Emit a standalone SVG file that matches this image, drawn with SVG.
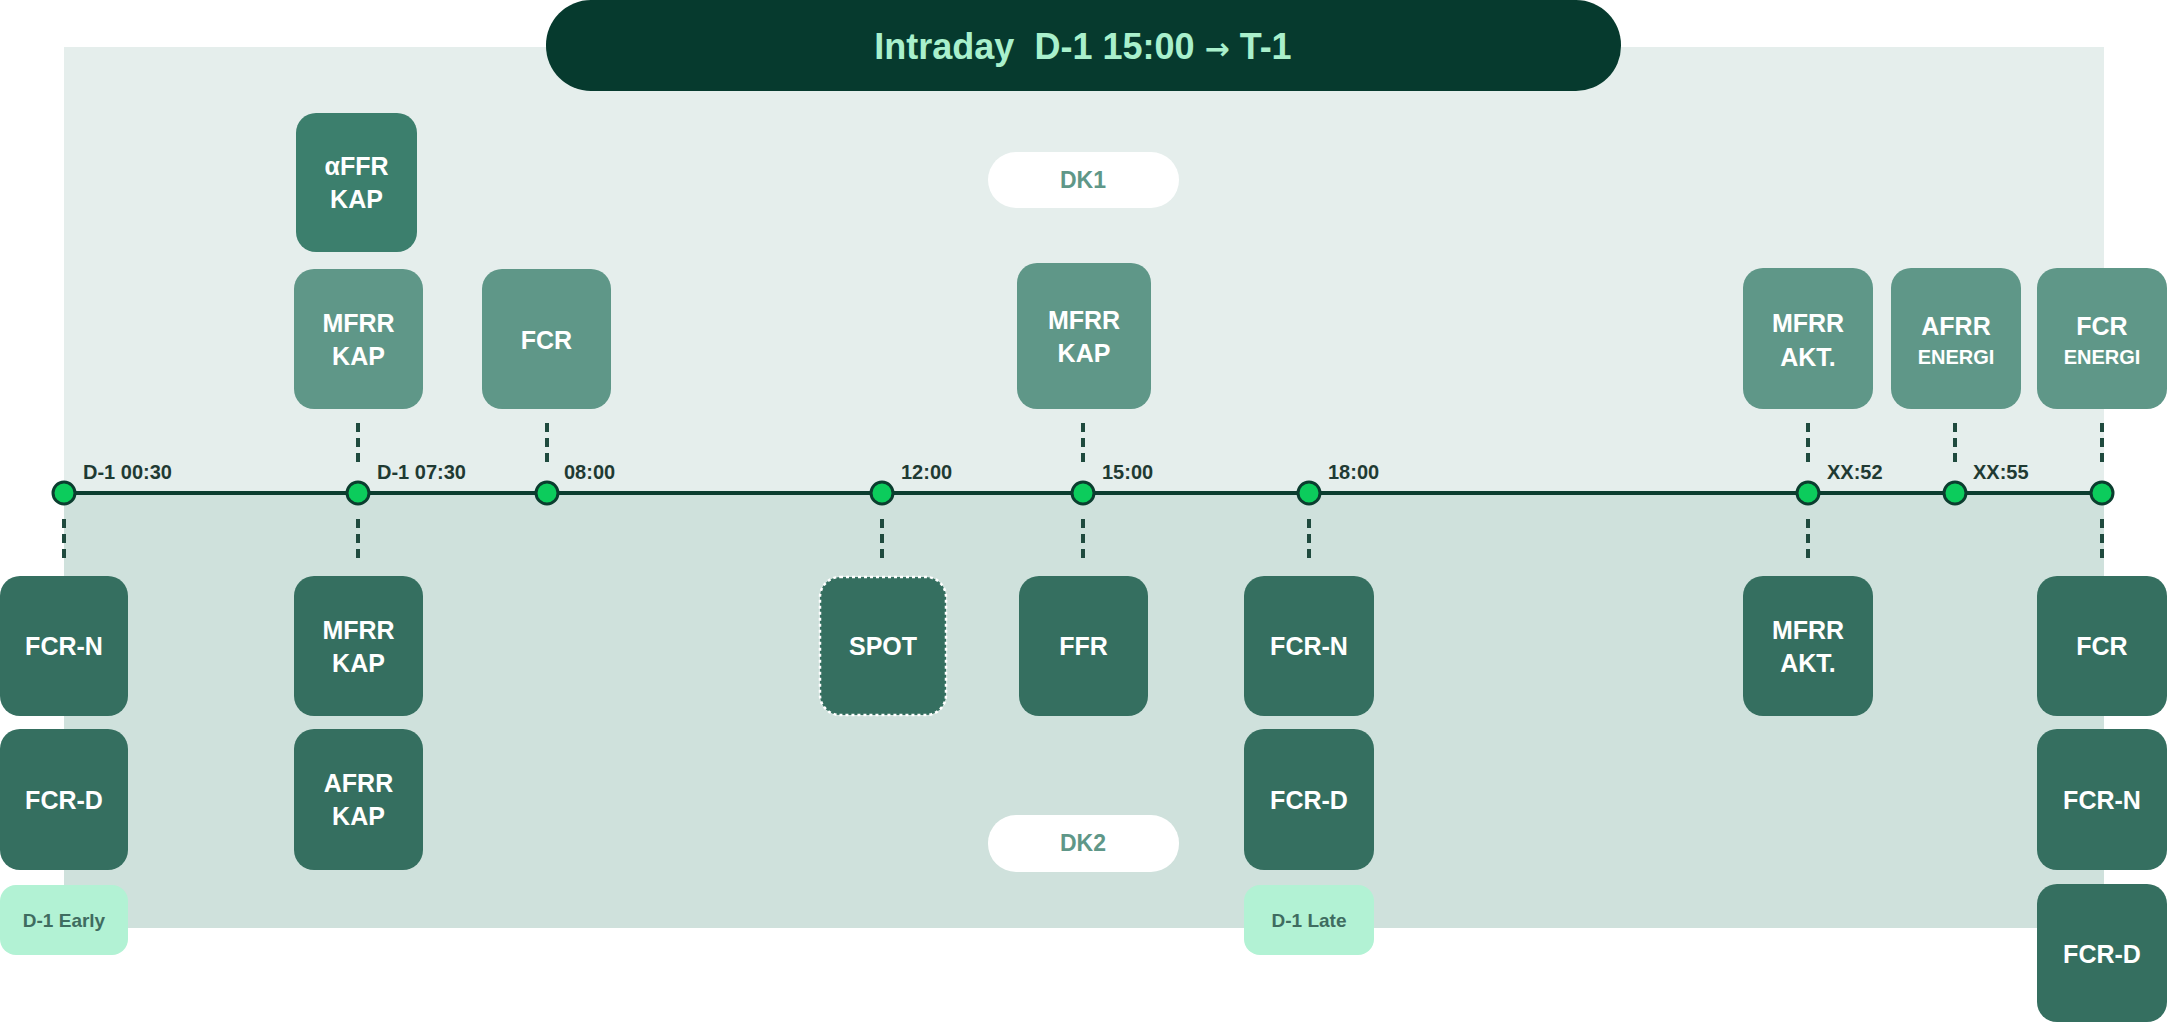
<svg xmlns="http://www.w3.org/2000/svg" width="2167" height="1022" viewBox="0 0 2167 1022">
<defs>
<style>
text{font-family:"Liberation Sans",Arial,sans-serif;font-weight:bold;}
.up{fill:#5f9788;}
.lo{fill:#356f60;}
.af{fill:#3c7f6d;}
.mint{fill:#b2f2d4;}
.nt{fill:#ffffff;font-size:25px;text-anchor:middle;}
.st{fill:#ffffff;font-size:20px;text-anchor:middle;}
.mt{fill:#3f6c60;font-size:19px;text-anchor:middle;}
.tl{fill:#1f3a33;font-size:20px;}
.dash{stroke:#1f4a3e;stroke-width:4;stroke-dasharray:9 6;fill:none;}
.dot{fill:#0ccc5c;stroke:#0b3d2f;stroke-width:3;}
.pill{fill:#ffffff;}
.pt{fill:#5f9788;font-size:23px;text-anchor:middle;}
</style>
</defs>
<rect width="2167" height="1022" fill="#ffffff"/>
<g id="panel">
<rect x="64" y="47" width="2040" height="446" fill="#e5eeec"/>
<rect x="64" y="493" width="2040" height="435" fill="#cfe1dc"/>
</g>
<g id="title">
<rect x="546" y="0" width="1075" height="91" rx="45" fill="#063a2e"/>
<text x="1083" y="59" font-size="36" text-anchor="middle" fill="#a9f0cc">Intraday&#160; D-1 15:00 <tspan font-family="DejaVu Sans, sans-serif" font-size="30">→</tspan> T-1</text>
</g>
<g id="dk1"><rect class="pill" x="988" y="152" width="191" height="56" rx="28"/><text class="pt" x="1083" y="188">DK1</text></g>
<g id="dk2"><rect class="pill" x="988" y="815" width="191" height="57" rx="28"/><text class="pt" x="1083" y="851">DK2</text></g>
<g id="connectors">
<line x1="64" y1="493" x2="2102" y2="493" stroke="#0b3d2f" stroke-width="4"/>
<line class="dash" x1="358" y1="423" x2="358" y2="468"/>
<line class="dash" x1="547" y1="423" x2="547" y2="468"/>
<line class="dash" x1="1083" y1="423" x2="1083" y2="468"/>
<line class="dash" x1="1808" y1="423" x2="1808" y2="468"/>
<line class="dash" x1="1955" y1="423" x2="1955" y2="468"/>
<line class="dash" x1="2102" y1="423" x2="2102" y2="468"/>
<line class="dash" x1="64" y1="519" x2="64" y2="564"/>
<line class="dash" x1="358" y1="519" x2="358" y2="564"/>
<line class="dash" x1="882" y1="519" x2="882" y2="564"/>
<line class="dash" x1="1083" y1="519" x2="1083" y2="564"/>
<line class="dash" x1="1309" y1="519" x2="1309" y2="564"/>
<line class="dash" x1="1808" y1="519" x2="1808" y2="564"/>
<line class="dash" x1="2102" y1="519" x2="2102" y2="564"/>
</g>
<g id="timeline">
<circle class="dot" cx="64" cy="493" r="11"/>
<circle class="dot" cx="358" cy="493" r="11"/>
<circle class="dot" cx="547" cy="493" r="11"/>
<circle class="dot" cx="882" cy="493" r="11"/>
<circle class="dot" cx="1083" cy="493" r="11"/>
<circle class="dot" cx="1309" cy="493" r="11"/>
<circle class="dot" cx="1808" cy="493" r="11"/>
<circle class="dot" cx="1955" cy="493" r="11"/>
<circle class="dot" cx="2102" cy="493" r="11"/>
<text class="tl" x="83" y="479">D-1 00:30</text>
<text class="tl" x="377" y="479">D-1 07:30</text>
<text class="tl" x="564" y="479">08:00</text>
<text class="tl" x="901" y="479">12:00</text>
<text class="tl" x="1102" y="479">15:00</text>
<text class="tl" x="1328" y="479">18:00</text>
<text class="tl" x="1827" y="479">XX:52</text>
<text class="tl" x="1973" y="479">XX:55</text>
</g>
<g id="n-affr-kap"><rect class="af" x="296" y="113" width="121" height="139" rx="20"/><text class="nt" x="356.5" y="175">αFFR</text><text class="nt" x="356.5" y="208">KAP</text></g>
<g id="n-mfrr-kap-up"><rect class="up" x="294" y="269" width="129" height="140" rx="20"/><text class="nt" x="358.5" y="332">MFRR</text><text class="nt" x="358.5" y="365">KAP</text></g>
<g id="n-fcr-up"><rect class="up" x="482" y="269" width="129" height="140" rx="20"/><text class="nt" x="546.5" y="349">FCR</text></g>
<g id="n-mfrr-kap-15"><rect class="up" x="1017" y="263" width="134" height="146" rx="20"/><text class="nt" x="1084" y="329">MFRR</text><text class="nt" x="1084" y="362">KAP</text></g>
<g id="n-mfrr-akt-up"><rect class="up" x="1743" y="268" width="130" height="141" rx="20"/><text class="nt" x="1808" y="332">MFRR</text><text class="nt" x="1808" y="366">AKT.</text></g>
<g id="n-afrr-energi"><rect class="up" x="1891" y="268" width="130" height="141" rx="20"/><text class="nt" x="1956" y="335">AFRR</text><text class="st" x="1956" y="364">ENERGI</text></g>
<g id="n-fcr-energi"><rect class="up" x="2037" y="268" width="130" height="141" rx="20"/><text class="nt" x="2102" y="335">FCR</text><text class="st" x="2102" y="364">ENERGI</text></g>
<g id="n-fcrn-early"><rect class="lo" x="0" y="576" width="128" height="140" rx="20"/><text class="nt" x="64" y="655">FCR-N</text></g>
<g id="n-fcrd-early"><rect class="lo" x="0" y="729" width="128" height="141" rx="20"/><text class="nt" x="64" y="809">FCR-D</text></g>
<g id="n-d1-early"><rect class="mint" x="0" y="885" width="128" height="70" rx="16"/><text class="mt" x="64" y="927">D-1 Early</text></g>
<g id="n-mfrr-kap-lo"><rect class="lo" x="294" y="576" width="129" height="140" rx="20"/><text class="nt" x="358.5" y="639">MFRR</text><text class="nt" x="358.5" y="672">KAP</text></g>
<g id="n-afrr-kap"><rect class="lo" x="294" y="729" width="129" height="141" rx="20"/><text class="nt" x="358.5" y="792">AFRR</text><text class="nt" x="358.5" y="825">KAP</text></g>
<g id="n-spot"><rect class="lo" x="820" y="577" width="126" height="138" rx="20" stroke="#ffffff" stroke-width="2.5" stroke-dasharray="3 3"/><text class="nt" x="883" y="655">SPOT</text></g>
<g id="n-ffr"><rect class="lo" x="1019" y="576" width="129" height="140" rx="20"/><text class="nt" x="1083.5" y="655">FFR</text></g>
<g id="n-fcrn-late"><rect class="lo" x="1244" y="576" width="130" height="140" rx="20"/><text class="nt" x="1309" y="655">FCR-N</text></g>
<g id="n-fcrd-late"><rect class="lo" x="1244" y="729" width="130" height="141" rx="20"/><text class="nt" x="1309" y="809">FCR-D</text></g>
<g id="n-d1-late"><rect class="mint" x="1244" y="885" width="130" height="70" rx="16"/><text class="mt" x="1309" y="927">D-1 Late</text></g>
<g id="n-mfrr-akt-lo"><rect class="lo" x="1743" y="576" width="130" height="140" rx="20"/><text class="nt" x="1808" y="639">MFRR</text><text class="nt" x="1808" y="672">AKT.</text></g>
<g id="n-fcr-right"><rect class="lo" x="2037" y="576" width="130" height="140" rx="20"/><text class="nt" x="2102" y="655">FCR</text></g>
<g id="n-fcrn-right"><rect class="lo" x="2037" y="729" width="130" height="141" rx="20"/><text class="nt" x="2102" y="809">FCR-N</text></g>
<g id="n-fcrd-right"><rect class="lo" x="2037" y="884" width="130" height="138" rx="20"/><text class="nt" x="2102" y="963">FCR-D</text></g>
</svg>
